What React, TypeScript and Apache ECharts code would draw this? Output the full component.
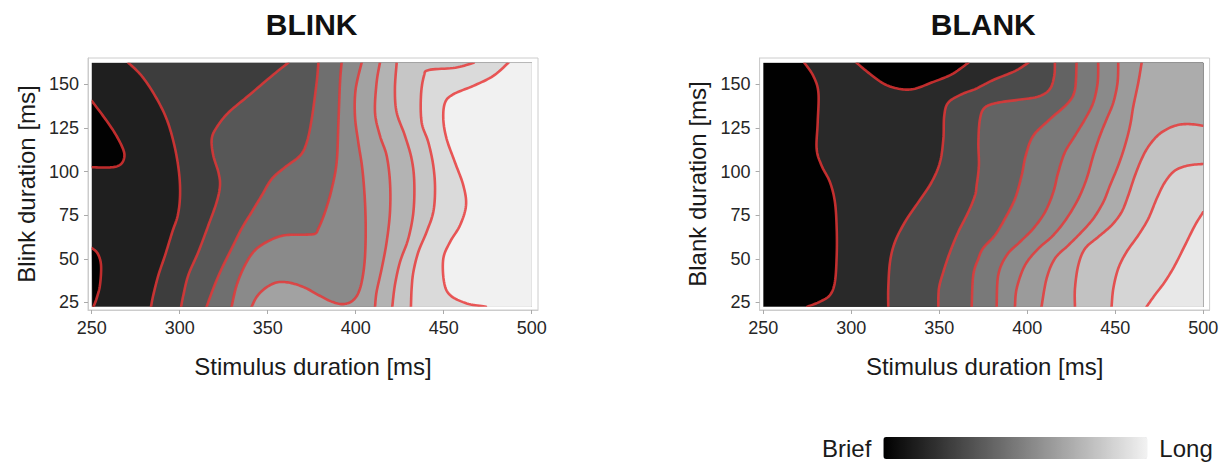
import React, { useEffect, useRef } from 'react';
import * as echarts from 'echarts';

// ---------- axes ----------
const X_TICKS = [250, 300, 350, 400, 450, 500];
const Y_TICKS = [25, 50, 75, 100, 125, 150];
const X_RANGE = [250, 500];
const Y_RANGE = [22.5, 162.5];

// ---------- BLINK contours [stimulus ms, blink ms] ----------
const BLINK_BLOB_TOP = [[250, 140.6], [255.7, 133], [262.3, 123.5], [267, 114.9], [268.6, 109.2], [266.7, 104.4], [261.4, 102.5], [250, 102.5]];
const BLINK_BLOB_BOTTOM = [[250, 56.2], [253.4, 53], [255.3, 46.3], [254.7, 34.9], [252.8, 27.3], [251, 22.5]];
const BLINK_C1 = [[270.8, 162.5], [278.4, 154.9], [286, 143.5], [292.6, 130.1], [297, 114.9], [299.6, 99.6], [300.2, 86.3], [298.9, 74.9], [295.8, 65.4], [291.7, 52], [287.9, 40.6], [285, 29.2], [283.7, 22.5]];
const BLINK_C2 = [[361.7, 162.5], [352.3, 154.9], [339, 143.5], [327.7, 133.9], [321, 125.4], [318.2, 118.7], [319.1, 109.2], [322, 99.6], [322.9, 92], [321, 82.5], [316.3, 69.2], [310.6, 53.9], [304.9, 40.6], [302.1, 29.2], [300.8, 22.5]];
const BLINK_C3 = [[378.8, 162.5], [377.8, 151.1], [375, 130.1], [372.2, 116.8], [368.4, 109.2], [359.8, 102.5], [352.3, 95.8], [346.6, 86.3], [340.9, 76.8], [335.2, 67.3], [329.5, 55.8], [323.9, 44.4], [319.1, 33], [315.3, 22.5]];
const BLINK_C4 = [[392, 162.5], [391.1, 151.1], [390.2, 128.2], [389.2, 105.4], [386.4, 90.1], [382.6, 76.8], [378.8, 67.3], [376.9, 64.4], [371.2, 63.8], [359.8, 63.5], [351.3, 60.6], [342.8, 54.9], [337.1, 46.3], [332.4, 34.9], [329.5, 22.5]];
const BLINK_C5 = [[340.9, 22.5], [343.8, 28.2], [348.5, 33], [355.1, 36.4], [362.7, 36.2], [371.2, 33.4], [378.8, 29.2], [386.4, 25.4], [393, 24], [398.7, 26.3], [402.5, 33], [404.9, 46.3], [405.7, 63.5], [405.3, 82.5], [403.8, 101.5], [401.5, 116.8], [399.6, 132], [400, 147.3], [403.4, 162.5]];
const BLINK_C6 = [[413.8, 162.5], [411.9, 151.1], [411, 133.9], [413.8, 120.6], [417.6, 109.2], [419.5, 93.9], [419.5, 76.8], [417.6, 59.6], [414.8, 44.4], [411.9, 31.1], [411, 22.5]];
const BLINK_C7 = [[423.3, 162.5], [422.3, 147.3], [423.3, 133.9], [428, 120.6], [431.8, 107.3], [433.3, 93.9], [432.8, 76.8], [429.9, 61.5], [425.2, 48.2], [422.3, 34.9], [420.8, 22.5]];
const BLINK_C8 = [[467.1, 162.5], [456.7, 159.6], [441.6, 158.3], [438.8, 154.9], [437.1, 143.5], [437.5, 128.2], [441.3, 116.8], [444.1, 103.5], [445.1, 90.1], [444.1, 76.8], [440.3, 65.4], [435.6, 53.9], [432.8, 42.5], [431.8, 33], [431.4, 22.5]];
const BLINK_C9 = [[486.8, 162.5], [478.2, 154.9], [466.9, 149.2], [455.5, 144.4], [450.8, 139.6], [449.8, 130.1], [451.7, 118.7], [456.4, 105.4], [461.2, 92], [462.7, 80.6], [459.3, 69.2], [453.6, 59.6], [449.8, 50.1], [450.2, 36.8], [453.6, 29.2], [463.1, 24.4], [474, 22.5]];
// level (0 = brief ... 10 = long) of: whole area, top blob, bottom blob, right of C1..C9
const BLINK_LEVELS = [1.3, 0.1, 0.1, 2.5, 3.6, 4.6, 5.7, 6.7, 7.4, 8.2, 9.0, 9.95];

// ---------- BLANK contours ----------
const BLANK_L1 = [[273.3, 162.5], [278.4, 154.9], [281.3, 145.4], [280.9, 128.2], [280.3, 113], [283.1, 103.5], [287.9, 93.9], [290.7, 82.5], [291.7, 67.3], [291.7, 52], [290.7, 36.8], [287.9, 29.2], [282.2, 25.4], [275, 22.5]];
const BLANK_BLOB_TOP = [[303, 162.5], [309.7, 156.8], [319.1, 150.1], [328.6, 147.3], [336.2, 147.6], [345.6, 151.1], [357, 155.8], [366.5, 162.5]];
const BLANK_L2 = [[400.6, 162.5], [393, 157.7], [381.6, 153], [374, 149.2], [370.3, 147.3], [362.7, 144.4], [355.1, 139.6], [352.8, 132], [352.3, 118.7], [350.4, 105.4], [345.6, 93.9], [338.1, 82.5], [330.5, 71.1], [324.8, 59.6], [322, 48.2], [321, 33], [321, 22.5]];
const BLANK_L3 = [[415.7, 162.5], [415.3, 154.9], [412.8, 147.3], [406.3, 143.1], [394.9, 141.2], [383.5, 139.6], [375.9, 136.8], [373.1, 130.1], [372.2, 116.8], [372.5, 103.5], [371.2, 92], [370.3, 86.3], [366.5, 76.8], [360.8, 65.4], [356.1, 53.9], [352.3, 42.5], [349.8, 33], [349.4, 22.5]];
const BLANK_L4 = [[428, 162.5], [427.1, 147.3], [423.3, 139.6], [412.9, 130.1], [403.4, 120.6], [399.1, 109.2], [396.8, 97.8], [393, 84.4], [387.3, 73], [381.6, 63.5], [375, 56.2], [372.2, 50.1], [369.3, 40.6], [368.4, 22.5]];
const BLANK_L5 = [[440.3, 162.5], [440, 151.1], [437.5, 139.6], [432.8, 130.1], [427.1, 120.6], [421.4, 111.1], [417.6, 99.6], [414.8, 88.2], [410.1, 76.8], [403.4, 67.3], [395.8, 59.6], [388.3, 52], [383.5, 40.6], [382.6, 22.5]];
const BLANK_L6 = [[451.7, 162.5], [451.3, 151.1], [448.9, 139.6], [445.1, 130.1], [441.3, 120.6], [437.5, 109.2], [433.7, 95.8], [429, 84.4], [422.3, 73], [414.8, 63.5], [406.3, 55.8], [398.7, 46.3], [394, 33], [393, 22.5]];
const BLANK_L7 = [[465, 162.5], [463.1, 151.1], [460.3, 137.7], [458.4, 126.3], [455.5, 114.9], [451.7, 103.5], [447, 92], [443.2, 82.5], [437.5, 73], [430.9, 65.4], [423.3, 57.7], [415.7, 50.1], [411, 38.7], [408.1, 22.5]];
const BLANK_L8 = [[500, 126.3], [491.5, 127.3], [483.9, 126.3], [476.3, 122.5], [470.6, 116.8], [465.9, 109.2], [461.2, 97.8], [457.4, 86.3], [453.6, 76.8], [447.9, 69.2], [440.3, 62.5], [432.8, 55.8], [429, 46.3], [427.1, 33], [427.1, 22.5]];
const BLANK_L9 = [[500, 104.4], [491.5, 103.5], [483.9, 100.6], [478.2, 93.9], [473.5, 84.4], [468.8, 73], [463.1, 63.5], [456.4, 53.9], [451.7, 44.4], [448.9, 33], [447.9, 22.5]];
const BLANK_L10 = [[500, 76.8], [495.3, 69.2], [489.6, 57.7], [483.9, 46.3], [478.2, 36.8], [472.5, 29.2], [467.8, 22.5]];
// level of: whole area, right of L1, top blob, right of L2..L10
const BLANK_LEVELS = [0.05, 1.7, 0.05, 3.1, 4.1, 5.0, 5.7, 6.4, 7.1, 8.0, 8.8, 9.6];

const COLORBAR_TEXT = ['Long', 'Brief'];
const FONT = "'Liberation Sans', Arial, Helvetica, sans-serif";

type Band = { kind: 'area' | 'closed' | 'right'; pts?: number[][] };

const BLINK_BANDS: Band[] = [
  { kind: 'area' },
  { kind: 'closed', pts: BLINK_BLOB_TOP },
  { kind: 'closed', pts: BLINK_BLOB_BOTTOM },
  ...[BLINK_C1, BLINK_C2, BLINK_C3, BLINK_C4, BLINK_C5, BLINK_C6, BLINK_C7, BLINK_C8, BLINK_C9].map((p) => ({ kind: 'right' as const, pts: p })),
];
const BLINK_STROKES = [BLINK_BLOB_TOP, BLINK_BLOB_BOTTOM, BLINK_C1, BLINK_C2, BLINK_C3, BLINK_C4, BLINK_C5, BLINK_C6, BLINK_C7, BLINK_C8, BLINK_C9];

const BLANK_BANDS: Band[] = [
  { kind: 'area' },
  { kind: 'right', pts: BLANK_L1 },
  { kind: 'closed', pts: BLANK_BLOB_TOP },
  ...[BLANK_L2, BLANK_L3, BLANK_L4, BLANK_L5, BLANK_L6, BLANK_L7, BLANK_L8, BLANK_L9, BLANK_L10].map((p) => ({ kind: 'right' as const, pts: p })),
];
const BLANK_STROKES = [BLANK_L1, BLANK_BLOB_TOP, BLANK_L2, BLANK_L3, BLANK_L4, BLANK_L5, BLANK_L6, BLANK_L7, BLANK_L8, BLANK_L9, BLANK_L10];

// Catmull-Rom rendering of a polyline (pixel space)
function spline(p: number[][], steps = 10): number[][] {
  if (p.length < 3) return p.slice();
  const out: number[][] = [p[0]];
  for (let i = 0; i < p.length - 1; i++) {
    const p0 = p[i - 1] || p[i], p1 = p[i], p2 = p[i + 1], p3 = p[i + 2] || p[i + 1];
    for (let s = 1; s <= steps; s++) {
      const t = s / steps, t2 = t * t, t3 = t2 * t;
      const f = (k: number) => 0.5 * (2 * p1[k] + (-p0[k] + p2[k]) * t + (2 * p0[k] - 5 * p1[k] + 4 * p2[k] - p3[k]) * t2 + (-p0[k] + 3 * p1[k] - 3 * p2[k] + p3[k]) * t3);
      out.push([f(0), f(1)]);
    }
  }
  return out;
}

function edgeOf(p: number[]) {
  if (p[0] >= X_RANGE[1] - 1e-6) return 'r';
  if (p[1] <= Y_RANGE[0] + 1e-6) return 'b';
  if (p[1] >= Y_RANGE[1] - 1e-6) return 't';
  return '?';
}

function rightCorners(pts: number[][]): number[][] {
  const first = pts[0], last = pts[pts.length - 1];
  const c: number[][] = [];
  const TR = [X_RANGE[1], Y_RANGE[1]], BR = [X_RANGE[1], Y_RANGE[0]];
  const el = edgeOf(last), ef = edgeOf(first);
  if (el === 'b') c.push(BR);
  if (el === 't') c.push(TR);
  if (ef === 't' && el !== 't') c.push(TR);
  if (ef === 'b' && el !== 'b') c.push(BR);
  return c;
}

function clipRect(api: any) {
  const tl = api.coord([X_RANGE[0], Y_RANGE[1]]);
  const br = api.coord([X_RANGE[1], Y_RANGE[0]]);
  return { x: tl[0], y: tl[1], width: br[0] - tl[0], height: br[1] - tl[1] };
}

const makeFill = (bands: Band[]) => (params: any, api: any) => {
  const b = bands[params.dataIndex];
  let pts: number[][];
  if (b.kind === 'area') {
    pts = [[X_RANGE[0], Y_RANGE[0]], [X_RANGE[0], Y_RANGE[1]], [X_RANGE[1], Y_RANGE[1]], [X_RANGE[1], Y_RANGE[0]]].map((p) => api.coord(p));
  } else {
    const curve = spline(b.pts!.map((p) => api.coord(p)));
    const corners = b.kind === 'right' ? rightCorners(b.pts!).map((p) => api.coord(p)) : [];
    pts = curve.concat(corners);
  }
  const color = api.visual('color');
  return {
    type: 'group',
    clipPath: { type: 'rect', shape: clipRect(api) },
    children: [{ type: 'polygon', shape: { points: pts }, style: { fill: color, stroke: color, lineWidth: 0.6 } }],
  };
};

const makeStroke = (lines: number[][][]) => (params: any, api: any) => {
  const pts = spline(lines[params.dataIndex].map((p) => api.coord(p)));
  return {
    type: 'group',
    clipPath: { type: 'rect', shape: clipRect(api) },
    children: [{ type: 'polyline', shape: { points: pts }, style: { stroke: 'rgba(232,52,52,0.82)', lineWidth: 2.6, fill: null, lineJoin: 'round', lineCap: 'round' } }],
  };
};

const GRID_TOP = 58, GRID_H = 252, GRID_W = 450;
const GRID_LEFTS = [88, 759.6];
const TITLE_CENTERS = [311.7, 983.3];

function xAxis(i: number) {
  return {
    gridIndex: i, type: 'value', min: 247.9, max: 503.6,
    axisLine: { show: true, onZero: false, lineStyle: { color: '#cccccc', width: 1 } },
    axisTick: { show: true, customValues: X_TICKS, length: 4, lineStyle: { color: '#aaaaaa' } },
    axisLabel: { customValues: X_TICKS, fontSize: 18, color: '#262626', fontFamily: FONT, margin: 9 },
    splitLine: { show: false },
    name: 'Stimulus duration [ms]', nameLocation: 'middle', nameGap: 44,
    nameTextStyle: { fontSize: 24, color: '#1a1a1a', fontFamily: FONT },
  };
}
function yAxis(i: number, name: string) {
  return {
    gridIndex: i, type: 'value', min: 20.61, max: 165.19,
    axisLine: { show: true, onZero: false, lineStyle: { color: '#cccccc', width: 1 } },
    axisTick: { show: true, customValues: Y_TICKS, length: 4, lineStyle: { color: '#aaaaaa' } },
    axisLabel: { customValues: Y_TICKS, fontSize: 18, color: '#262626', fontFamily: FONT, margin: 9 },
    splitLine: { show: false },
    name, nameLocation: 'middle', nameGap: 50,
    nameTextStyle: { fontSize: 24, color: '#1a1a1a', fontFamily: FONT },
  };
}

export default function App() {
  const ref = useRef<HTMLDivElement>(null);
  useEffect(() => {
    const chart = echarts.init(ref.current!, null, { renderer: 'svg' });
    chart.setOption({
      animation: false,
      backgroundColor: '#ffffff',
      title: [
        { text: 'BLINK', left: TITLE_CENTERS[0], top: 9, textAlign: 'center', padding: 0, textStyle: { fontSize: 30, fontWeight: 'bold', color: '#111', fontFamily: FONT } },
        { text: 'BLANK', left: TITLE_CENTERS[1], top: 9, textAlign: 'center', padding: 0, textStyle: { fontSize: 30, fontWeight: 'bold', color: '#111', fontFamily: FONT } },
      ],
      grid: GRID_LEFTS.map((l) => ({ left: l, top: GRID_TOP, width: GRID_W, height: GRID_H, show: true, borderColor: '#cccccc', borderWidth: 1, backgroundColor: 'transparent' })),
      xAxis: [xAxis(0), xAxis(1)],
      yAxis: [yAxis(0, 'Blink duration [ms]'), yAxis(1, 'Blank duration [ms]')],
      visualMap: {
        type: 'continuous', min: 0, max: 10, dimension: 0, seriesIndex: [0, 2],
        inRange: { color: ['#000000', '#f2f2f2'] },
        orient: 'horizontal', itemWidth: 22, itemHeight: 264,
        text: COLORBAR_TEXT, textGap: 12, calculable: false, hoverLink: false,
        textStyle: { fontSize: 24, color: '#1a1a1a', fontFamily: FONT },
        left: 822, top: 436, padding: 0,
      },
      series: [
        { type: 'custom', xAxisIndex: 0, yAxisIndex: 0, silent: true, z: 1, renderItem: makeFill(BLINK_BANDS), data: BLINK_LEVELS.map((v) => [v]) },
        { type: 'custom', xAxisIndex: 0, yAxisIndex: 0, silent: true, z: 2, renderItem: makeStroke(BLINK_STROKES), data: BLINK_STROKES.map((_, i) => [i]) },
        { type: 'custom', xAxisIndex: 1, yAxisIndex: 1, silent: true, z: 1, renderItem: makeFill(BLANK_BANDS), data: BLANK_LEVELS.map((v) => [v]) },
        { type: 'custom', xAxisIndex: 1, yAxisIndex: 1, silent: true, z: 2, renderItem: makeStroke(BLANK_STROKES), data: BLANK_STROKES.map((_, i) => [i]) },
      ],
    });
    return () => chart.dispose();
  }, []);
  return <div ref={ref} style={{ position: 'fixed', left: 0, top: 0, width: 1230, height: 463, background: '#fff' }} />;
}
